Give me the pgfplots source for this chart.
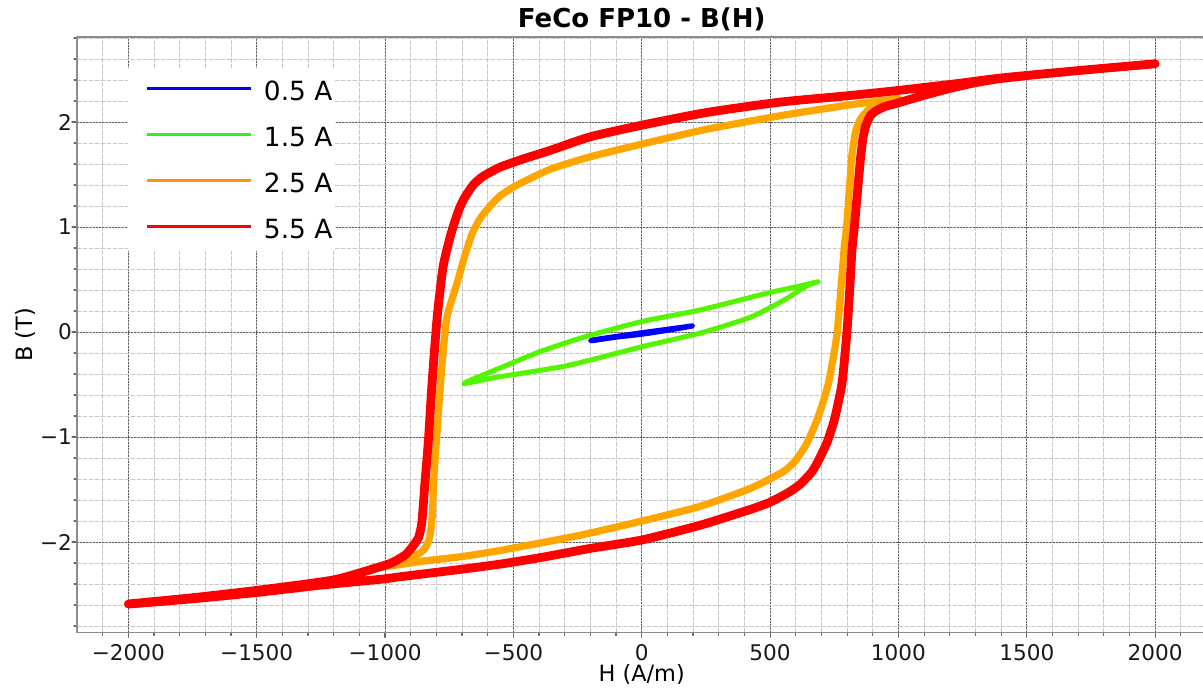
\documentclass[border=0pt]{standalone}
\usepackage{fontspec}
\setmainfont{DejaVu Sans}
\usepackage{pgfplots}
\pgfplotsset{compat=1.18}
\definecolor{cblue}{RGB}{0,0,255}
\definecolor{cgreen}{RGB}{85,245,0}
\definecolor{corange}{RGB}{255,165,0}
\definecolor{cred}{RGB}{255,0,0}
\definecolor{lgreen}{RGB}{40,240,40}
\definecolor{lorange}{RGB}{255,145,20}
\begin{document}
\begin{tikzpicture}
\useasboundingbox (-38.5pt,-28pt) rectangle (563pt,316.2pt);
\begin{axis}[
  at={(0pt,0pt)}, anchor=south west,
  scale only axis, width=564.75pt, height=297.7pt,
  xmin=-2200, xmax=2200, ymin=-2.86, ymax=2.81,
  xtick={-2000,-1500,-1000,-500,0,500,1000,1500,2000},
  xticklabels={−2000,−1500,−1000,−500,0,500,1000,1500,2000},
  ytick={-2,-1,0,1,2},
  yticklabels={−2,−1,0,1,2},
  minor xtick={-2100,-1900,-1800,-1700,-1600,-1400,-1300,-1200,-1100,-900,-800,-700,-600,-400,-300,-200,-100,100,200,300,400,600,700,800,900,1100,1200,1300,1400,1600,1700,1800,1900,2100},
  minor ytick={-2.8,-2.6,-2.4,-2.2,-1.8,-1.6,-1.4,-1.2,-0.8,-0.6,-0.4,-0.2,0.2,0.4,0.6,0.8,1.2,1.4,1.6,1.8,2.2,2.4,2.6,2.8},
  xtick pos=left, ytick pos=left,
  tick align=outside,
  major tick length=2.5pt, minor tick length=1.5pt,
  tick style={black!60, line width=0.6pt},
  axis line style={black!45, line width=0.8pt},
  grid=both,
  major grid style={black!65, line width=0.45pt, dash pattern=on 0.8pt off 0.8pt},
  minor grid style={black!22, line width=0.45pt, dash pattern=on 2pt off 1pt},
  tick label style={font=\fontsize{10.8}{13}\selectfont, text=black!90},
  yticklabel style={xshift=3.5pt},
  every axis title/.style={at={(axis description cs:0.5,1)}, anchor=base, yshift=4.5pt, font=\bfseries\fontsize{13}{15}\selectfont},
  title={FeCo FP10 - B(H)},
  every axis x label/.style={at={(axis description cs:0.5,0)}, anchor=base, yshift=-24.5pt, font=\fontsize{11.2}{13}\selectfont},
  every axis y label/.style={at={(axis description cs:-0.039,0.5)}, anchor=base, rotate=90, font=\fontsize{11.2}{13}\selectfont},
  xlabel={H (A/m)}, ylabel={B (T)},
  legend cell align=left,
  legend style={at={(axis description cs:0.04515,0.948)}, anchor=north west, draw=none, fill=white,
    font=\fontsize{13.2}{15}\selectfont, inner xsep=1.5pt, inner ysep=6.3pt, row sep=13.4pt, column sep=6pt,
    nodes={inner sep=0pt, text height=9.6pt, text depth=0pt}},
  legend image code/.code={\path (-7.5pt,0pt); \draw[#1, line width=1.2pt] (0pt,1pt) -- (52pt,1pt);},
  line join=round, line cap=round,
]
\addlegendimage{cblue}\addlegendentry{0.5 A}
\addlegendimage{lgreen}\addlegendentry{1.5 A}
\addlegendimage{lorange}\addlegendentry{2.5 A}
\addlegendimage{cred}\addlegendentry{5.5 A}

% 0.5 A
\addplot[forget plot, cblue, line width=2.4pt, smooth, tension=0.4] coordinates {
(195,0.060) (100,0.028) (0,-0.005) (-100,-0.040) (-194,-0.075)
(-190,-0.082) (-100,-0.050) (0,-0.022) (100,0.015) (195,0.055) (195,0.060)
};
% 1.5 A
\addplot[forget plot, cgreen, line width=2.5pt, smooth, tension=0.4] coordinates {
(687,0.48) (600,0.43) (488,0.37) (227,0.21) (0,0.10) (-228,-0.05) (-400,-0.19) (-540,-0.33) (-630,-0.42) (-692,-0.49)
(-564,-0.43) (-291,-0.32) (0,-0.14) (227,-0.01) (422,0.14) (551,0.30) (643,0.44) (687,0.48)
};
% 2.5 A
\addplot[forget plot, corange, line width=3.6pt, smooth, tension=0.35] coordinates {
(1000,2.225) (800,2.16) (539,2.06) (250,1.93) (0,1.79) (-200,1.67) (-357,1.55) (-486,1.40) (-550,1.30) (-591,1.20)
(-630,1.08) (-660,0.94) (-690,0.72) (-720,0.46) (-759,0.14) (-779,-0.34) (-798,-0.97) (-810,-1.40) (-817,-1.78)
(-828,-1.97) (-851,-2.08) (-900,-2.15) (-960,-2.20) (-1055,-2.25)
(-960,-2.22) (-850,-2.18) (-707,-2.14) (-552,-2.08) (-250,-1.94) (0,-1.80) (227,-1.66) (422,-1.49) (551,-1.33)
(600,-1.22) (643,-1.06) (687,-0.81) (727,-0.49) (761,-0.01) (788,0.78) (799,1.03) (810,1.40) (818,1.67)
(832,1.90) (850,2.02) (880,2.11) (928,2.18) (1000,2.225)
};
% 5.5 A
\addplot[forget plot, cred, line width=4.4pt, smooth, tension=0.35] coordinates {
(2000,2.555) (1700,2.49) (1400,2.42) (1241,2.37) (995,2.30) (800,2.25) (539,2.19) (250,2.09) (0,1.97) (-200,1.86)
(-357,1.73) (-460,1.65) (-552,1.57) (-620,1.48) (-657,1.40) (-690,1.28) (-710,1.18) (-730,1.04) (-747,0.90)
(-774,0.62) (-797,0.14) (-817,-0.49) (-831,-1.03) (-845,-1.45) (-857,-1.82) (-870,-1.96) (-895,-2.05) (-920,-2.12)
(-960,-2.18) (-1000,-2.22) (-1200,-2.36) (-1500,-2.46) (-1750,-2.53) (-2000,-2.59)
(-1750,-2.54) (-1500,-2.48) (-1250,-2.41) (-1000,-2.35) (-941,-2.33) (-707,-2.26) (-552,-2.21) (-400,-2.15)
(-200,-2.06) (0,-1.98) (227,-1.84) (422,-1.69) (500,-1.62) (570,-1.53) (617,-1.45) (660,-1.34) (683,-1.25)
(705,-1.14) (722,-1.05) (740,-0.92) (753,-0.81) (780,-0.49) (799,-0.01) (810,0.40) (819,0.78) (830,1.05)
(842,1.38) (852,1.65) (862,1.85) (872,1.96) (890,2.06) (915,2.11) (950,2.15) (995,2.18) (1100,2.255) (1200,2.32)
(1300,2.375) (1400,2.415) (1550,2.455) (1700,2.49) (2000,2.555)
};
\end{axis}
\end{tikzpicture}
\end{document}
